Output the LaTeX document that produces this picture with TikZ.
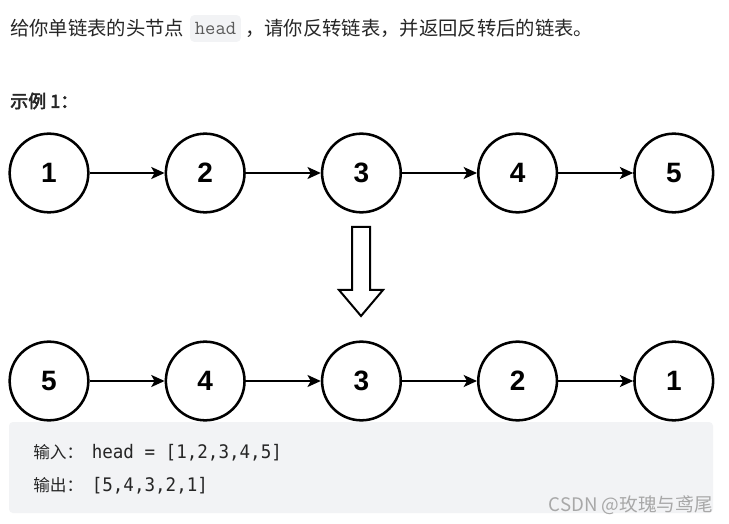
\documentclass[tikz,border=0pt]{standalone}
\usepackage{fontspec}
\setmainfont{Liberation Sans}
\newfontfamily\cjk{Noto Sans CJK SC}
\newfontfamily\cjkb[FakeBold=3]{Noto Sans CJK SC}
\newfontfamily\codefont[FakeStretch=0.94]{DejaVu Sans Mono}
\usetikzlibrary{arrows.meta}
\definecolor{txt}{HTML}{262626}
\definecolor{codebg}{HTML}{F2F3F5}
\definecolor{inl}{HTML}{5A5A5A}
\definecolor{wm}{HTML}{A8A8A8}
\tikzset{
  lnode/.style={circle, draw=black, line width=1.9pt, minimum size=59pt, inner sep=0pt,
    font=\fontsize{21}{21}\selectfont\bfseries},
  larrow/.style={line width=1.5pt, -{Stealth[length=10pt,width=9pt,inset=2.5pt]}},
  cjktext/.style={text=txt, inner sep=0pt, font=\cjk\fontsize{14.5}{14.5}\selectfont},
  codecjk/.style={text=txt, inner sep=0pt, anchor=base west, font=\cjk\fontsize{12.5}{12.5}\selectfont},
  codetxt/.style={text=txt, inner sep=0pt, anchor=base west, font=\codefont\fontsize{14}{14}\selectfont},
}
\begin{document}
\begin{tikzpicture}[x=0.75pt,y=-0.75pt]
\useasboundingbox (0,0) rectangle (729,524);
\fill[white] (0,0) rectangle (729,524);

% title line
\node[cjktext, anchor=west] (t1) at (10,28) {给你单链表的头节点};
\node[fill=codebg, rounded corners=3pt, minimum width=38pt, minimum height=20pt, inner sep=0pt,
  text=inl, font=\ttfamily\fontsize{15}{15}\selectfont] (hd) at (215.5,28.5) {head};
\node[cjktext, anchor=west] (t2) at (245,28) {，请你反转链表，并返回反转后的链表。};

% example label
\node[anchor=west, inner sep=0pt, text=txt, font=\cjkb\fontsize{13.5}{13.5}\selectfont] (ex) at (10,101) {示例 1：};

% row 1
\node[lnode] (a1) at (49,173) {1};
\node[lnode] (a2) at (205.2,173) {2};
\node[lnode] (a3) at (361.4,173) {3};
\node[lnode] (a4) at (517.6,173) {4};
\node[lnode] (a5) at (673.8,173) {5};
\draw[larrow] (a1) -- (a2);
\draw[larrow] (a2) -- (a3);
\draw[larrow] (a3) -- (a4);
\draw[larrow] (a4) -- (a5);

% hollow down arrow
\draw[line width=1.5pt, fill=white, line join=miter]
  (352,227) -- (370,227) -- (370,290) -- (383,290) -- (361,316) -- (339,290) -- (352,290) -- cycle;

% row 2
\node[lnode] (b1) at (49,381) {5};
\node[lnode] (b2) at (205.2,381) {4};
\node[lnode] (b3) at (361.4,381) {3};
\node[lnode] (b4) at (517.6,381) {2};
\node[lnode] (b5) at (673.8,381) {1};
\draw[larrow] (b1) -- (b2);
\draw[larrow] (b2) -- (b3);
\draw[larrow] (b3) -- (b4);
\draw[larrow] (b4) -- (b5);

% code box
\fill[codebg, rounded corners=3pt] (9,422) rectangle (713,513);
\node[codecjk] (in) at (33,458) {输入：};
\node[codetxt] (inv) at (91.5,458) {head = [1,2,3,4,5]};
\node[codecjk] (out) at (33,491.5) {输出：};
\node[codetxt] (outv) at (91.5,491.5) {[5,4,3,2,1]};

% watermark
\node[anchor=east, inner sep=0pt, text=wm, font=\cjk\fontsize{14}{14}\selectfont] (wm) at (713,505) {CSDN @玫瑰与鸢尾};
\end{tikzpicture}
\end{document}
